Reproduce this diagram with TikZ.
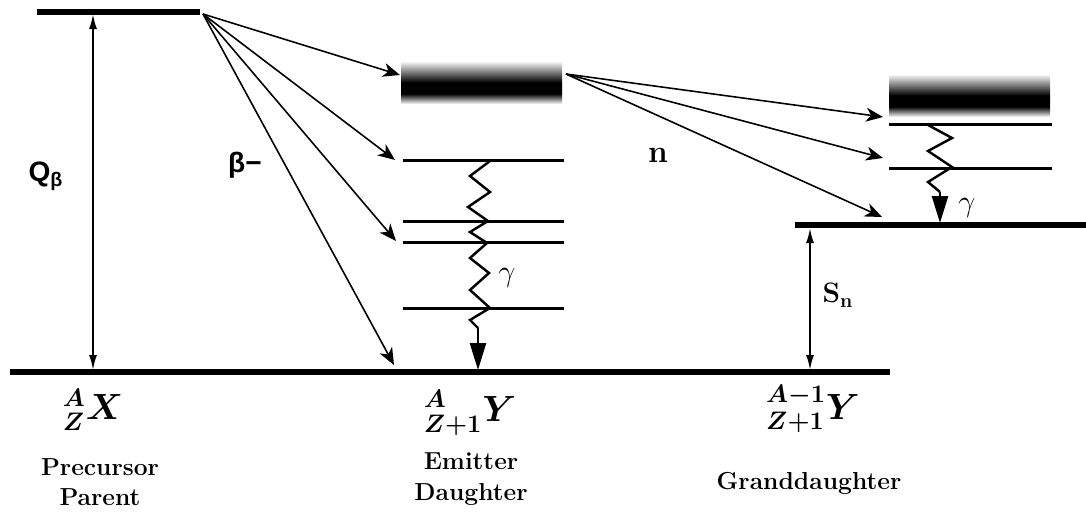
\documentclass[tikz,border=0pt]{standalone}
\usepackage{amsmath,amssymb}
\usepackage{fontspec}
\newfontfamily\labelsans{Liberation Sans}
\usetikzlibrary{arrows.meta}
\usepackage{xcolor}
\pgfdeclareverticalshading{bandshade}{100bp}{color(0bp)=(white);
  color(25bp)=(white); color(37bp)=(black); color(50bp)=(black);
  color(75bp)=(white); color(100bp)=(white)}

\begin{document}
\begin{tikzpicture}[
  x=0.02cm,y=-0.02cm,
  ground/.style={line width=2.9pt},
  level/.style={line width=1.7pt},
  band/.style={shading=bandshade},
  decay/.style={
    -{Stealth[length=3.4mm,width=2.8mm,inset=1mm]},line width=.9pt
  },
  gap/.style={
    {Latex[length=3mm,width=1.6mm]}-{Latex[length=3mm,width=1.6mm]},
    line width=1.1pt
  },
  gammaray/.style={line width=1.4pt,line join=miter},
  gammatip/.style={-{Triangle[length=5.4mm,width=3.2mm]},line width=1.4pt},
  nuclide/.style={font=\fontsize{20}{24}\selectfont,inner sep=0pt},
  caption/.style={
    font=\fontsize{14}{17.5}\selectfont\bfseries,align=center,inner sep=0pt
  },
  tag/.style={font=\fontsize{16}{18}\selectfont,inner sep=0pt}
]
  \useasboundingbox (0,0) rectangle (1086,512);

  % parent and common ground
  \draw[ground] (37,12) coordinate (p0) -- (200,12) coordinate (p1);
  \draw[ground] (10,372) coordinate (g0) -- (890,372) coordinate (g1);

  % emitter daughter levels
  \shade[band] (401,61) rectangle (562,104);
  \foreach \n/\y in {e1/160,e2/221,e3/242,e4/308}
    {\draw[level] (403,\y) coordinate (\n w) -- (564,\y) coordinate (\n e);}

  % granddaughter levels
  \shade[band] (889,74) rectangle (1050,117);
  \foreach \n/\y in {f1/124,f2/168}
    {\draw[level] (889,\y) coordinate (\n w) -- (1052,\y) coordinate (\n e);}
  \draw[ground] (795,225) coordinate (h0) -- (1086,225) coordinate (h1);

  % Q value and neutron separation energy
  \coordinate (qtop) at (93,14);
  \coordinate (qbot) at (93,370);
  \draw[gap] (qtop) -- (qbot);
  \coordinate (stop) at (810,228);
  \coordinate (sbot) at (810,370);
  \draw[gap] (stop) -- (sbot);

  % beta feeding
  \coordinate (bfrom) at (203,14);
  \coordinate (bband) at (400,75);
  \coordinate (bone) at (395,160);
  \coordinate (bthree) at (396,241);
  \coordinate (bgnd) at (394,365);
  \foreach \t in {bband,bone,bthree,bgnd}
    {\draw[decay] (bfrom) -- (\t);}

  % neutron emission
  \coordinate (nfrom) at (566,74);
  \coordinate (nband) at (883,117);
  \coordinate (none) at (883,158);
  \coordinate (ngnd) at (882,217);
  \foreach \t in {nband,none,ngnd}
    {\draw[decay] (nfrom) -- (\t);}

  % gamma cascades
  \coordinate (ga) at (490,161);
  \coordinate (gb) at (490,308);
  \coordinate (gc) at (478,328);
  \coordinate (gd) at (478,370);
  \draw[gammaray] (ga) -- (470,176) -- (490,192) -- (468,207) -- (488,221)
    -- (470,232) -- (487,243) -- (470,258) -- (489,273) -- (470,290)
    -- (gb) -- (470,320) -- (gc);
  \draw[gammatip] (gc) -- (gd);
  \coordinate (ha) at (928,125);
  \coordinate (hb) at (952,167);
  \coordinate (hc) at (940,192);
  \coordinate (hd) at (940,223);
  \draw[gammaray] (ha) -- (952,138) -- (928,151) -- (hb) -- (928,182)
    -- (hc);
  \draw[gammatip] (hc) -- (hd);

  \node[tag] (qlabel) at (46,176) {\labelsans\bfseries Q\textsubscript{β}};
  \node[tag] (blabel) at (245,165) {\labelsans\bfseries β−};
  \node[tag,font=\fontsize{18}{20}\selectfont] (nlabel) at (658,155)
    {\bfseries n};
  \node[tag] (slabel) at (838,295) {\bfseries S\textsubscript{n}};
  \node[tag] (glabel) at (507,278) {$\gamma$};
  \node[tag] (hlabel) at (967,208) {$\gamma$};

  \node[nuclide] (parent) at (93,410) {$\boldsymbol{{}^{A}_{Z}X}$};
  \node[nuclide] (emitter) at (470,413) {$\boldsymbol{{}^{A}_{Z+1}Y}$};
  \node[nuclide] (grand) at (813,409) {$\boldsymbol{{}^{A-1}_{Z+1}Y}$};

  \node[caption] (parentname) at (100,482) {Precursor\\Parent};
  \node[caption] (emittername) at (471,479) {Emitter\\Daughter};
  \node[caption] (grandname) at (809,483) {Granddaughter};
\end{tikzpicture}
\end{document}
